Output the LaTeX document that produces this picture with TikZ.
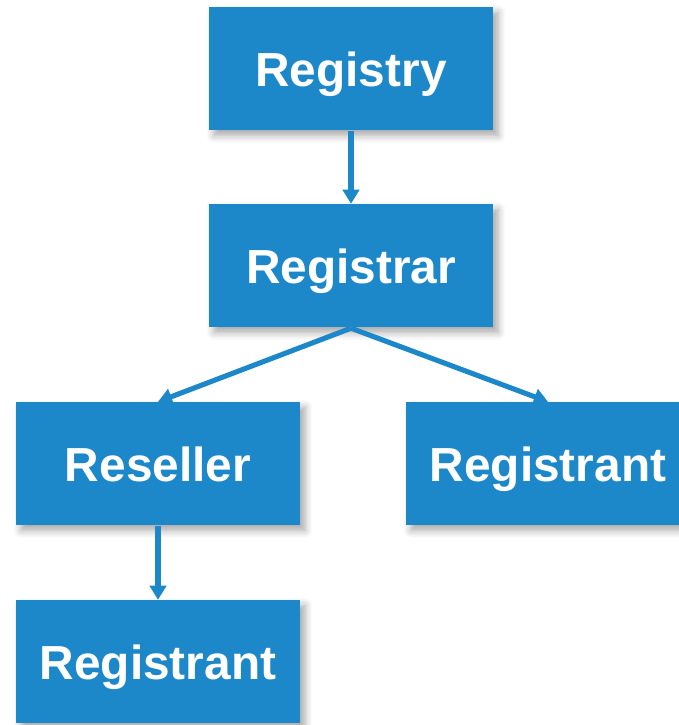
\documentclass[tikz,border=0pt]{standalone}
\usepackage{fontspec}
\setmainfont{Liberation Sans}
\usepackage{xcolor}
\usetikzlibrary{arrows.meta,shadows.blur}
\definecolor{regblue}{HTML}{1C87C9}

\tikzset{
  regbox/.style={fill=regblue, minimum width=2.84cm, minimum height=1.23cm,
    inner sep=0pt, text=white, text depth=0pt, font=\fontsize{13.6}{16}\selectfont\bfseries,
    blur shadow={shadow xshift=0.05cm, shadow yshift=-0.05cm, shadow blur steps=6, shadow opacity=35}},
  regarrow/.style={draw=regblue, line width=1.45pt, -{Triangle[width=4.6pt,length=4pt]}}
}

\begin{document}
\begin{tikzpicture}
    \useasboundingbox (0,0) rectangle (6.79,7.25);
    \node[regbox] (registry) at (3.51, 6.56) {Registry};
    \node[regbox] (registrar) at (3.51, 4.59) {Registrar};
    \node[regbox] (reseller) at (1.58, 2.61) {Reseller};
    \node[regbox] (registrantR) at (5.48, 2.61) {Registrant};
    \node[regbox] (registrantB) at (1.58, 0.63) {Registrant};
    \draw[regarrow] (registry.south) -- (registrar.north);
    \draw[regarrow] (registrar.south) -- (reseller.north);
    \draw[regarrow] (registrar.south) -- (registrantR.north);
    \draw[regarrow] (reseller.south) -- (registrantB.north);
\end{tikzpicture}
\end{document}
